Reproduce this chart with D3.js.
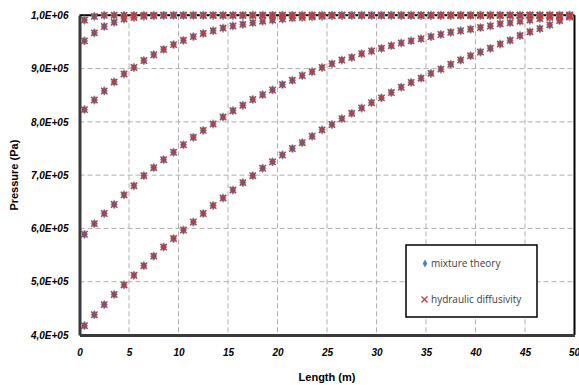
<!DOCTYPE html>
<html><head><meta charset="utf-8">
<script src="https://cdn.jsdelivr.net/npm/d3@7"></script>
<style>body{margin:0;background:#fff}svg{display:block}</style>
</head><body>
<svg id="c" width="579" height="385"></svg>
<script>
const lengths = [0.5,1.5,2.5,3.5,4.5,5.5,6.5,7.5,8.5,9.5,10.5,11.5,12.5,13.5,14.5,15.5,16.5,17.5,18.5,19.5,20.5,21.5,22.5,23.5,24.5,25.5,26.5,27.5,28.5,29.5,30.5,31.5,32.5,33.5,34.5,35.5,36.5,37.5,38.5,39.5,40.5,41.5,42.5,43.5,44.5,45.5,46.5,47.5,48.5,49.5];
const profileA = [417500,438000,457000,476000,494000,512000,530000,548000,565000,581000,597000,612000,628000,643000,657000,672000,686000,699000,713000,725000,738000,750000,761000,773000,785000,795000,806000,816000,826000,836000,845000,855000,865000,874000,882000,891000,899000,908000,916000,924000,931000,938000,946000,953000,962000,969000,975000,982000,990000,997000];
const profileB = [589000,609000,628000,645000,663000,680000,699000,714000,729000,743000,757000,771000,784000,796000,809000,821000,831000,842000,851000,860000,870000,878000,887000,894000,902000,909000,916000,921000,928000,933000,938000,943000,948000,952000,956000,960000,964000,968000,971000,974000,977000,980000,984000,986000,989000,991000,994000,996000,997000,999000];
const profileC = [823000,841000,858000,875000,890000,902000,915000,926000,936000,945000,953000,960000,966000,971000,976000,980000,983000,986000,989000,991000,993000,995000,996000,997000,998000,999000,1000000,1000000,1000000,1000000,1000000,1000000,1000000,1000000,1000000,1000000,1000000,1000000,1000000,1000000,1000000,1000000,1000000,1000000,1000000,1000000,1000000,1000000,1000000,1000000];
const profileD = [952000,967000,979000,987000,993000,996000,998000,999000,1000000,1000000,1000000,1000000,1000000,1000000,1000000,1000000,1000000,1000000,1000000,1000000,1000000,1000000,1000000,1000000,1000000,1000000,1000000,1000000,1000000,1000000,1000000,1000000,1000000,1000000,1000000,1000000,1000000,1000000,1000000,1000000,1000000,1000000,1000000,1000000,1000000,1000000,1000000,1000000,1000000,1000000];
const profileE = [991000,998000,1000000,1000000,1000000,1000000,1000000,1000000,1000000,1000000,1000000,1000000,1000000,1000000,1000000,1000000,1000000,1000000,1000000,1000000,1000000,1000000,1000000,1000000,1000000,1000000,1000000,1000000,1000000,1000000,1000000,1000000,1000000,1000000,1000000,1000000,1000000,1000000,1000000,1000000,1000000,1000000,1000000,1000000,1000000,1000000,1000000,1000000,1000000,1000000];
const mixtureTheory = [profileA, profileB, profileC, profileD, profileE];
const hydraulicDiffusivity = [profileA, profileB, profileC, profileD, profileE];
const xTicks = [0,5,10,15,20,25,30,35,40,45,50];
const yTicks = [400000,500000,600000,700000,800000,900000,1000000];
const yTickLabels = ["4,0E+05","5,0E+05","6,0E+05","7,0E+05","8,0E+05","9,0E+05","1,0E+06"];
const legendLabels = ["mixture theory","hydraulic diffusivity"];

const svg = d3.select("#c");
const L = 79.5, R = 574.5, T = 15.3, B = 335;
const x = d3.scaleLinear().domain([0,50]).range([L,R]);
const y = d3.scaleLinear().domain([400000,1000000]).range([B,T]);
const blue = "#4F81BD", red = "#BE3F3C";
const tickFont = "'Liberation Sans', Arial, sans-serif";

// gridlines
const g = svg.append("g");
g.selectAll("line.v").data(xTicks.slice(1,-1)).join("line")
  .attr("x1",d=>x(d)).attr("x2",d=>x(d)).attr("y1",T).attr("y2",B)
  .attr("stroke","#b0b0b0").attr("stroke-width",1).attr("stroke-dasharray","5,3");
g.selectAll("line.h").data(yTicks.slice(1,-1)).join("line")
  .attr("y1",d=>y(d)).attr("y2",d=>y(d)).attr("x1",L).attr("x2",R)
  .attr("stroke","#b0b0b0").attr("stroke-width",1).attr("stroke-dasharray","5,3");

// top & right frame
svg.append("line").attr("x1",L).attr("x2",R).attr("y1",T).attr("y2",T).attr("stroke","#000").attr("stroke-width",2);
svg.append("line").attr("x1",R).attr("x2",R).attr("y1",T).attr("y2",B).attr("stroke","#000").attr("stroke-width",2);

// axes
const xAxis = d3.axisBottom(x).tickValues(xTicks).tickSize(0).tickPadding(14).tickFormat(d3.format("d"));
const yAxis = d3.axisLeft(y).tickValues(yTicks).tickSize(0).tickPadding(11).tickFormat((d,i)=>yTickLabels[i]);
const gx = svg.append("g").attr("transform",`translate(0,${B})`).call(xAxis);
const gy = svg.append("g").attr("transform",`translate(${L},0)`).call(yAxis);
[gx,gy].forEach(a=>{
  a.select(".domain").attr("stroke","#3a3a3a").attr("stroke-width",3);
  a.selectAll("text").attr("font-family",tickFont).attr("font-size","10px")
   .attr("font-weight","bold").attr("font-style","italic").attr("fill","#000");
});
gx.selectAll(".tick").filter(d=>d===50).select("text").attr("text-anchor","end").attr("dx","5");

// markers
const diamond = d3.symbol().type(d3.symbolDiamond).size(22);
const pts = svg.append("g");
mixtureTheory.forEach(series=>{
  pts.append("g").selectAll("path").data(series).join("path")
    .attr("d",diamond).attr("transform",(d,i)=>`translate(${x(lengths[i])},${y(d)}) scale(1.25,1)`)
    .attr("fill","#4a5f8a").attr("stroke","#8aa3c8").attr("stroke-width",0.8);
});
const xs = 3.2;
hydraulicDiffusivity.forEach(series=>{
  pts.append("g").selectAll("path").data(series).join("path")
    .attr("d",`M${-xs},${-xs}L${xs},${xs}M${-xs},${xs}L${xs},${-xs}`)
    .attr("transform",(d,i)=>`translate(${x(lengths[i])},${y(d)})`)
    .attr("fill","none").attr("stroke",red).attr("stroke-width",1.5);
});

// axis titles
svg.append("text").attr("x",(L+R)/2).attr("y",381).attr("text-anchor","middle")
  .attr("font-family",tickFont).attr("font-size","11px").attr("font-weight","bold").text("Length (m)");
svg.append("text").attr("transform",`translate(18,${(T+B)/2}) rotate(-90)`).attr("text-anchor","middle")
  .attr("font-family",tickFont).attr("font-size","11px").attr("font-weight","bold").text("Pressure (Pa)");

// legend
const lg = svg.append("g");
lg.append("rect").attr("x",406).attr("y",245).attr("width",131).attr("height",72)
  .attr("fill","#fff").attr("stroke","#000").attr("stroke-width",1.5);
lg.append("path").attr("d",d3.symbol().type(d3.symbolDiamond).size(18))
  .attr("transform","translate(425,263.5)").attr("fill",blue);
lg.append("path").attr("d","M-3,-3L3,3M-3,3L3,-3").attr("transform","translate(424.5,299.5)")
  .attr("stroke",red).attr("stroke-width",1.3).attr("fill","none");
lg.selectAll("text").data(legendLabels).join("text")
  .attr("x",431).attr("y",(d,i)=>[267,303][i])
  .attr("font-family","'Open Sans', sans-serif").attr("font-size","10px").attr("fill","#404040").text(d=>d);
</script>
</body></html>
